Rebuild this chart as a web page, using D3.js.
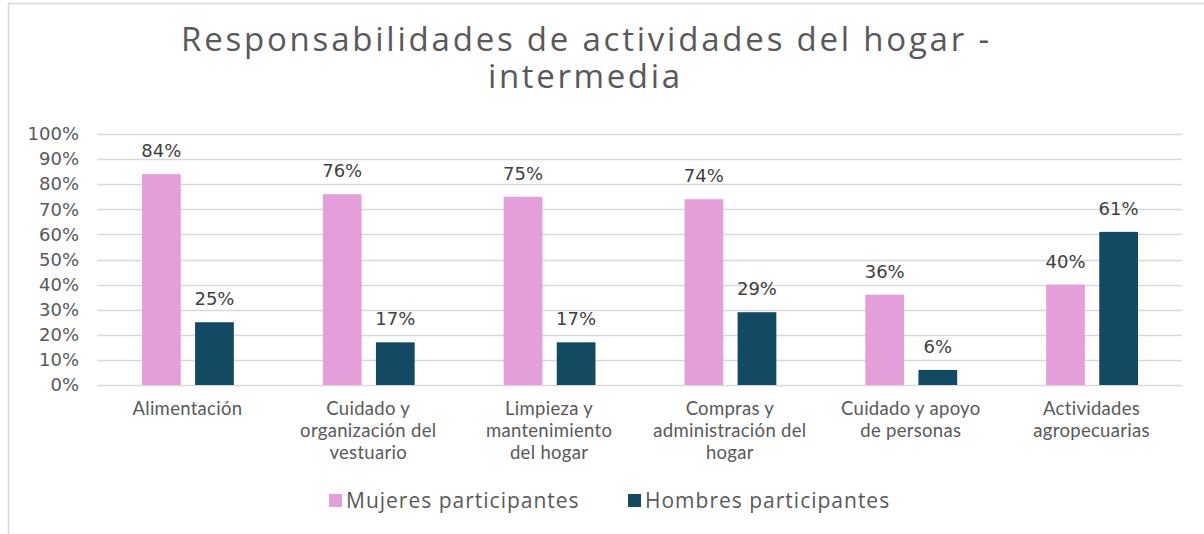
<!DOCTYPE html>
<html>
<head>
<meta charset="utf-8">
<script src="https://cdn.jsdelivr.net/npm/d3@7"></script>
<style>
  body { margin: 0; background: #fff; }
  svg { display: block; }
</style>
</head>
<body>
<div id="chart"></div>
<script>
// Data
const categories = [
  ["Alimentación"],
  ["Cuidado y", "organización del", "vestuario"],
  ["Limpieza y", "mantenimiento", "del hogar"],
  ["Compras y", "administración del", "hogar"],
  ["Cuidado y apoyo", "de personas"],
  ["Actividades", "agropecuarias"]
];
const seriesNames = ["Mujeres participantes", "Hombres participantes"];
const mujeres = [0.84, 0.76, 0.75, 0.74, 0.36, 0.40];
const hombres = [0.25, 0.17, 0.17, 0.29, 0.06, 0.61];
const yTicks = [0, 0.1, 0.2, 0.3, 0.4, 0.5, 0.6, 0.7, 0.8, 0.9, 1.0];
const colors = ["#E49EDA", "#124A63"];

const width = 1204, height = 534;
const margin = { left: 97, right: 22, top: 134, bottom: 149 };
const txt = "#595959";
const font = "Lato, 'Open Sans', sans-serif";
const numFont = "'DejaVu Sans', sans-serif";

const svg = d3.select("#chart").append("svg")
  .attr("width", width)
  .attr("height", height);

// chart frame
svg.append("path")
  .attr("d", `M8.5,${height} V3.5 H${width}`)
  .attr("fill", "none")
  .attr("stroke", "#d9d9d9")
  .attr("stroke-width", 1.5);

// title
const title = svg.append("text")
  .attr("text-anchor", "middle")
  .attr("fill", txt)
  .style("font-family", "'Open Sans', sans-serif")
  .style("font-weight", 500)
  .style("font-size", "33px");
title.append("tspan").attr("x", 585).attr("y", 51)
  .attr("textLength", 808).attr("lengthAdjust", "spacing")
  .text("Responsabilidades de actividades del hogar -");
title.append("tspan").attr("x", 584).attr("y", 88)
  .attr("textLength", 192).attr("lengthAdjust", "spacing")
  .text("intermedia");

const x0 = d3.scaleBand()
  .domain(d3.range(categories.length))
  .range([margin.left, width - margin.right]);

const x1 = d3.scaleBand()
  .domain([0, 1])
  .range([45, x0.bandwidth() - 44])
  .paddingInner(0.27);

const y = d3.scaleLinear()
  .domain([0, 1])
  .range([height - margin.bottom, margin.top]);

// gridlines
svg.append("g")
  .selectAll("line")
  .data(yTicks)
  .join("line")
  .attr("x1", margin.left)
  .attr("x2", width - margin.right)
  .attr("y1", d => Math.round(y(d)) + 0.5)
  .attr("y2", d => Math.round(y(d)) + 0.5)
  .attr("stroke", "#d9d9d9")
  .attr("stroke-width", 1.5);

// y axis labels
const yAxis = svg.append("g")
  .attr("transform", `translate(${margin.left},0)`)
  .call(d3.axisLeft(y).tickValues(yTicks).tickFormat(d3.format(".0%")).tickSize(0).tickPadding(18));
yAxis.select(".domain").remove();
yAxis.selectAll("text")
  .attr("fill", txt)
  .style("font-family", numFont)
  .style("font-size", "18px");

const series = [mujeres, hombres];

const groups = svg.append("g")
  .selectAll("g")
  .data(categories.map((c, i) => i))
  .join("g")
  .attr("transform", i => `translate(${x0(i)},0)`);

groups.selectAll("rect")
  .data(i => series.map((s, k) => ({ k, v: s[i] })))
  .join("rect")
  .attr("x", d => x1(d.k))
  .attr("width", x1.bandwidth())
  .attr("y", d => y(d.v))
  .attr("height", d => y(0) - y(d.v))
  .attr("fill", d => colors[d.k]);

groups.selectAll("text.val")
  .data(i => series.map((s, k) => ({ k, v: s[i] })))
  .join("text")
  .attr("class", "val")
  .attr("x", d => x1(d.k) + x1.bandwidth() / 2)
  .attr("y", d => y(d.v) - 17)
  .attr("text-anchor", "middle")
  .attr("fill", "#404040")
  .style("font-family", numFont)
  .style("font-size", "18px")
  .text(d => d3.format(".0%")(d.v));

// category labels
groups.append("text")
  .attr("text-anchor", "middle")
  .attr("fill", txt)
  .style("font-family", font)
  .style("font-size", "18.5px")
  .style("letter-spacing", "0.3px")
  .selectAll("tspan")
  .data(i => categories[i])
  .join("tspan")
  .attr("x", x0.bandwidth() / 2)
  .attr("y", (d, j) => 415 + j * 22)
  .text(d => d);

// legend
const legendX = [329, 628];
const legend = svg.append("g")
  .selectAll("g")
  .data(seriesNames)
  .join("g")
  .attr("transform", (d, i) => `translate(${legendX[i]},501)`);
legend.append("rect")
  .attr("x", 0).attr("y", -7)
  .attr("width", 13).attr("height", 13)
  .attr("fill", (d, i) => colors[i]);
legend.append("text")
  .attr("x", 17)
  .attr("y", 0)
  .attr("dy", "0.35em")
  .attr("fill", txt)
  .style("font-family", "'Open Sans', sans-serif")
  .style("font-size", "21px")
  .style("letter-spacing", "1px")
  .text(d => d);
</script>
</body>
</html>
